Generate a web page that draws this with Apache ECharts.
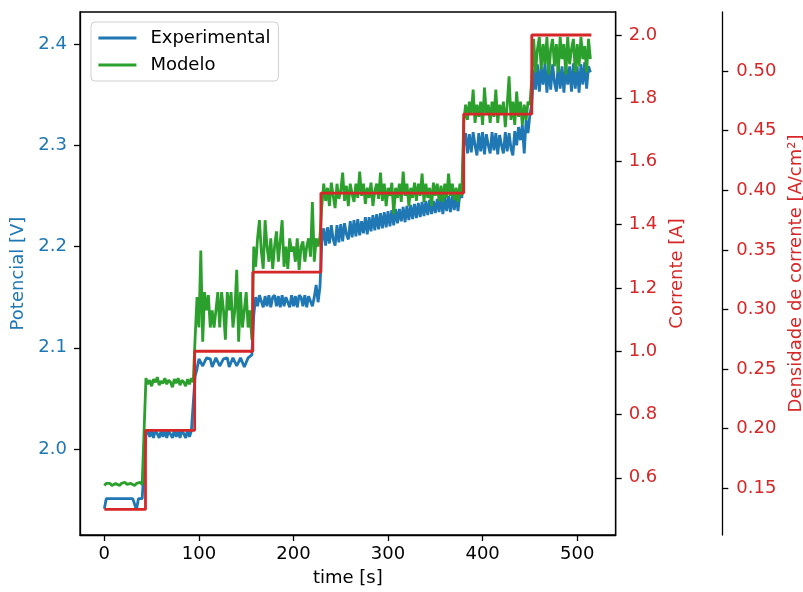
<!DOCTYPE html>
<html>
<head>
<meta charset="utf-8">
<script src="https://cdn.jsdelivr.net/npm/echarts@6/dist/echarts.min.js"></script>
<style>
  html, body { margin: 0; padding: 0; background: #fff; }
  #chart { width: 803px; height: 592px; }
</style>
</head>
<body>
<div id="chart"></div>
<script>
// Sampling period of the potential measurements [s]
const sampleStep = 2;

// Measured cell potential [V], one value every 2 s from t = 0 to t = 514 s
const experimental = [
  // 0.5 A
  1.941,1.951,1.951,1.951,1.951,1.951,1.951,1.951,1.951,1.951,1.951,1.951,1.951,1.951,1.951,1.951,1.951,1.940,1.951,1.951,1.951,1.951,
  // 0.75 A
  2.014,2.019,2.012,2.018,2.011,2.019,2.019,2.011,2.018,2.012,2.019,2.011,2.018,2.019,2.011,2.019,2.012,2.018,2.011,2.019,2.018,2.011,2.019,2.012,2.018,2.019,
  // 1.0 A
  2.072,2.079,2.089,2.090,2.082,2.081,2.090,2.090,2.089,2.081,2.082,2.090,2.090,2.082,2.081,2.089,2.090,2.090,2.081,2.082,2.090,2.089,2.082,2.081,2.090,2.090,2.081,2.082,2.090,2.091,2.093,
  // 1.25 A
  2.132,2.150,2.141,2.152,2.151,2.140,2.151,2.141,2.152,2.140,2.150,2.152,2.141,2.151,2.140,2.152,2.141,2.150,2.151,2.140,2.152,2.141,2.151,2.140,2.152,2.150,2.141,2.152,2.140,2.151,2.152,2.141,2.150,2.162,2.145,2.160,
  // 1.5 A
  2.205,2.218,2.201,2.219,2.203,2.221,2.207,2.201,2.221,2.204,2.222,2.205,2.223,2.212,2.207,2.225,2.209,2.226,2.210,2.227,
  2.211,2.225,2.213,2.229,2.212,2.229,2.215,2.231,2.216,2.232,2.217,2.233,2.218,2.234,2.219,2.235,2.220,2.236,2.221,2.237,
  2.223,2.237,2.225,2.239,2.224,2.240,2.226,2.241,2.227,2.242,2.228,2.243,2.229,2.244,2.230,2.245,2.231,2.246,2.232,2.245,
  2.233,2.247,2.234,2.248,2.232,2.249,2.235,2.250,2.234,2.251,2.236,2.250,2.235,2.253,2.248,
  // 1.75 A
  2.300,2.312,2.292,2.311,2.293,2.313,2.300,2.290,2.312,2.294,2.313,2.291,2.311,2.300,2.292,2.313,2.295,2.312,2.291,2.310,2.300,2.292,2.313,2.294,2.312,2.297,2.290,2.314,2.300,2.318,2.305,2.320,2.292,2.325,2.312,2.330,
  // 2.0 A
  2.340,2.375,2.355,2.380,2.353,2.378,2.360,2.381,2.352,2.378,2.355,2.380,2.362,2.353,2.381,2.356,2.378,2.352,2.380,2.360,2.378,2.353,2.381,2.356,2.378,2.352,2.380,2.360,2.382,2.356,2.378,2.372
];

// Modelled cell potential [V], same sampling
const modelo = [
  // 0.5 A
  1.964,1.966,1.965,1.966,1.964,1.965,1.966,1.965,1.964,1.966,1.965,1.967,1.965,1.964,1.966,1.965,1.964,1.966,1.965,1.967,1.965,1.964,
  // 0.75 A
  2.070,2.064,2.068,2.062,2.069,2.066,2.071,2.063,2.067,2.065,2.070,2.064,2.068,2.066,2.061,2.069,2.065,2.070,2.063,2.068,2.066,2.062,2.069,2.064,2.070,2.066,
  // 1.0 A
  2.110,2.150,2.120,2.196,2.106,2.155,2.137,2.152,2.120,2.137,2.120,2.137,2.155,2.120,2.155,2.137,2.108,2.155,2.137,2.155,2.120,2.137,2.177,2.106,2.155,2.120,2.137,2.155,2.120,2.137,2.108,
  // 1.25 A
  2.200,2.180,2.208,2.226,2.195,2.178,2.226,2.200,2.185,2.208,2.178,2.200,2.215,2.185,2.205,2.226,2.180,2.200,2.178,2.208,2.195,2.200,2.185,2.208,2.177,2.200,2.205,2.185,2.200,2.208,2.190,2.244,2.185,2.208,2.200,2.210,
  // 1.5 A
  2.240,2.262,2.245,2.258,2.240,2.263,2.250,2.238,2.262,2.247,2.255,2.273,2.245,2.260,2.240,2.262,2.252,2.244,2.262,2.248,
  2.274,2.250,2.262,2.242,2.258,2.248,2.263,2.240,2.255,2.262,2.247,2.273,2.245,2.262,2.240,2.258,2.250,2.263,2.232,2.258,
  2.248,2.262,2.244,2.274,2.250,2.262,2.240,2.258,2.248,2.263,2.245,2.262,2.250,2.272,2.244,2.262,2.248,2.258,2.240,2.263,
  2.250,2.262,2.245,2.260,2.244,2.262,2.248,2.272,2.250,2.262,2.246,2.258,2.244,2.262,2.250,
  // 1.75 A
  2.322,2.340,2.325,2.343,2.330,2.355,2.322,2.340,2.328,2.343,2.320,2.357,2.330,2.340,2.322,2.343,2.328,2.355,2.322,2.340,2.330,2.343,2.318,2.340,2.368,2.325,2.343,2.320,2.353,2.328,2.343,2.320,2.340,2.325,2.343,2.340,
  // 2.0 A
  2.365,2.405,2.372,2.395,2.407,2.375,2.400,2.380,2.407,2.370,2.395,2.405,2.378,2.400,2.372,2.407,2.385,2.400,2.370,2.407,2.380,2.395,2.405,2.372,2.400,2.378,2.407,2.385,2.398,2.372,2.405,2.385
];

// Applied current profile [A] and the instants where it changes [s]
const currentTimes  = [0, 43.5, 95.5, 157, 229, 380, 452, 515];
const currentValues = [0.5, 0.75, 1.0, 1.25, 1.5, 1.75, 2.0, 2.0];

// Tick labels
const timeTicks      = [0, 100, 200, 300, 400, 500];
const potentialTicks = [2.0, 2.1, 2.2, 2.3, 2.4];
const currentTicks   = [0.6, 0.8, 1.0, 1.2, 1.4, 1.6, 1.8, 2.0];
const densityTicks   = [0.15, 0.20, 0.25, 0.30, 0.35, 0.40, 0.45, 0.50];

const BLUE = '#1f77b4', GREEN = '#2ca02c', RED = '#d62728';
const FONT = 'DejaVu Sans';
const FS = 18;
const LW = 2.8;

const expPairs = experimental.map((v, i) => [i * sampleStep, v]);
const modPairs = modelo.map((v, i) => [i * sampleStep, v]);
const curPairs = currentTimes.map((t, i) => [t, currentValues[i]]);

function yAxisDef(opts) {
  return Object.assign({
    type: 'value',
    position: 'right',
    nameLocation: 'middle',
    nameRotate: 90,
    nameTextStyle: { fontFamily: FONT, fontSize: FS, color: RED },
    axisLine: { show: true, onZero: false, lineStyle: { color: '#000', width: 1.3 } },
    axisTick: { show: true, length: 6, lineStyle: { color: '#000', width: 1.3 } },
    axisLabel: { fontFamily: FONT, fontSize: FS, color: RED, margin: 13 },
    splitLine: { show: false }
  }, opts);
}

const chart = echarts.init(document.getElementById('chart'), null, { renderer: 'canvas' });

chart.setOption({
  animation: false,
  backgroundColor: '#fff',
  grid: {
    left: 80, top: 12, width: 535.7, height: 523,
    show: true, borderColor: '#000', borderWidth: 1.3, backgroundColor: 'transparent',
    containLabel: false,
    outerBoundsMode: 'none'
  },
  legend: {
    data: ['Experimental', 'Modelo'],
    orient: 'vertical',
    left: 91, top: 22,
    padding: [7, 8, 7, 6],
    itemGap: 9,
    itemWidth: 38,
    itemHeight: 14,
    borderColor: '#d0d0d0',
    borderWidth: 1,
    borderRadius: 4,
    backgroundColor: 'rgba(255,255,255,0.8)',
    itemStyle: { color: 'transparent', borderColor: 'transparent', borderWidth: 0 },
    lineStyle: { width: LW },
    textStyle: { fontFamily: FONT, fontSize: FS, color: '#000', padding: [0, 0, 0, 9] }
  },
  xAxis: {
    type: 'value',
    min: -25.75, max: 540.75,
    name: 'time [s]',
    nameLocation: 'middle',
    nameGap: 34,
    nameTextStyle: { fontFamily: FONT, fontSize: FS, color: '#000' },
    axisLine: { show: true, onZero: false, lineStyle: { color: '#000', width: 1.3 } },
    axisTick: { show: true, length: 6, customValues: timeTicks, lineStyle: { color: '#000', width: 1.3 } },
    axisLabel: { fontFamily: FONT, fontSize: FS, color: '#000', margin: 10, customValues: timeTicks },
    splitLine: { show: false }
  },
  yAxis: [
    yAxisDef({
      position: 'left',
      min: 1.9151, max: 2.4316,
      name: 'Potencial [V]',
      nameGap: 50,
      nameTextStyle: { fontFamily: FONT, fontSize: FS, color: BLUE },
      axisTick: { show: true, length: 6, customValues: potentialTicks, lineStyle: { color: '#000', width: 1.3 } },
      axisLabel: { fontFamily: FONT, fontSize: FS, color: BLUE, margin: 13, customValues: potentialTicks,
                   formatter: v => v.toFixed(1) }
    }),
    yAxisDef({
      min: 0.419, max: 2.0727,
      name: 'Corrente [A]',
      nameGap: 49,
      axisTick: { show: true, length: 6, customValues: currentTicks, lineStyle: { color: '#000', width: 1.3 } },
      axisLabel: { fontFamily: FONT, fontSize: FS, color: RED, margin: 13, customValues: currentTicks,
                   formatter: v => v.toFixed(1) }
    }),
    yAxisDef({
      min: 0.1108, max: 0.5495,
      offset: 106.6,
      name: 'Densidade de corrente [A/cm²]',
      nameGap: 59,
      axisTick: { show: true, length: 6, customValues: densityTicks, lineStyle: { color: '#000', width: 1.3 } },
      axisLabel: { fontFamily: FONT, fontSize: FS, color: RED, margin: 14, customValues: densityTicks,
                   formatter: v => v.toFixed(2) }
    })
  ],
  series: [
    {
      name: 'Experimental', type: 'line', yAxisIndex: 0,
      data: expPairs, symbol: 'none', clip: true,
      lineStyle: { color: BLUE, width: LW }, itemStyle: { color: BLUE }, z: 2
    },
    {
      name: 'Modelo', type: 'line', yAxisIndex: 0,
      data: modPairs, symbol: 'none', clip: true,
      lineStyle: { color: GREEN, width: LW }, itemStyle: { color: GREEN }, z: 3
    },
    {
      name: 'Corrente', type: 'line', yAxisIndex: 1, step: 'end',
      data: curPairs, symbol: 'none', clip: true,
      lineStyle: { color: RED, width: LW }, itemStyle: { color: RED }, z: 4
    }
  ]
});
</script>
</body>
</html>
